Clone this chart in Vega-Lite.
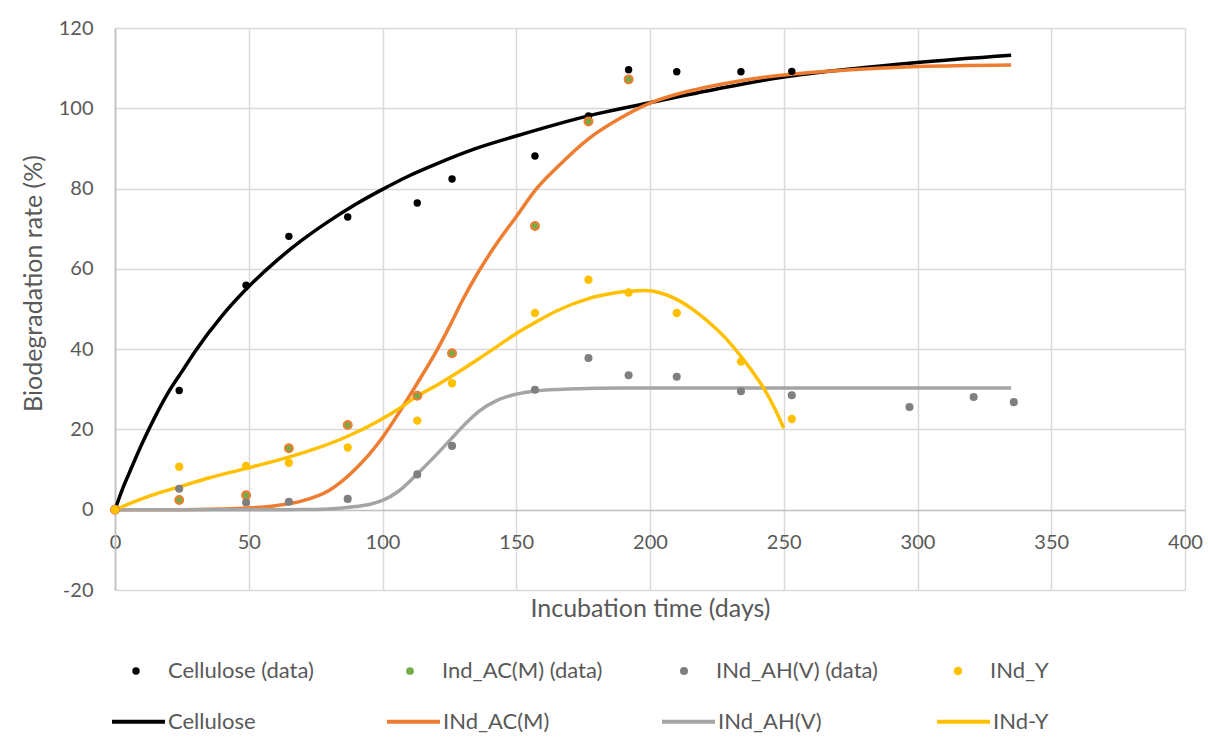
{
  "$schema": "https://vega.github.io/schema/vega-lite/v6.json",
  "width": 1070,
  "height": 562,
  "autosize": "none",
  "padding": {"left": 115, "top": 28, "right": 23, "bottom": 150},
  "background": "white",
  "config": {
    "font": "Lato",
    "view": {"stroke": null}
  },
  "datasets": {
    "pts": [
      {"series": "Cellulose (data)", "t": 0, "v": 0},
      {"series": "Cellulose (data)", "t": 24, "v": 29.7},
      {"series": "Cellulose (data)", "t": 49, "v": 55.9},
      {"series": "Cellulose (data)", "t": 65, "v": 68.1},
      {"series": "Cellulose (data)", "t": 87, "v": 72.9},
      {"series": "Cellulose (data)", "t": 113, "v": 76.4},
      {"series": "Cellulose (data)", "t": 126, "v": 82.4},
      {"series": "Cellulose (data)", "t": 157, "v": 88.1},
      {"series": "Cellulose (data)", "t": 177, "v": 98.1},
      {"series": "Cellulose (data)", "t": 192, "v": 109.6},
      {"series": "Cellulose (data)", "t": 210, "v": 109.1},
      {"series": "Cellulose (data)", "t": 234, "v": 109.1},
      {"series": "Cellulose (data)", "t": 253, "v": 109.2},
      {"series": "Ind_AC(M) (data)", "t": 0, "v": 0},
      {"series": "Ind_AC(M) (data)", "t": 24, "v": 2.4},
      {"series": "Ind_AC(M) (data)", "t": 49, "v": 3.6},
      {"series": "Ind_AC(M) (data)", "t": 65, "v": 15.3},
      {"series": "Ind_AC(M) (data)", "t": 87, "v": 21.1},
      {"series": "Ind_AC(M) (data)", "t": 113, "v": 28.4},
      {"series": "Ind_AC(M) (data)", "t": 126, "v": 39.0},
      {"series": "Ind_AC(M) (data)", "t": 157, "v": 70.7},
      {"series": "Ind_AC(M) (data)", "t": 177, "v": 96.7},
      {"series": "Ind_AC(M) (data)", "t": 192, "v": 107.2},
      {"series": "INd_AH(V) (data)", "t": 0, "v": 0},
      {"series": "INd_AH(V) (data)", "t": 24, "v": 5.2},
      {"series": "INd_AH(V) (data)", "t": 49, "v": 1.8},
      {"series": "INd_AH(V) (data)", "t": 65, "v": 2.0},
      {"series": "INd_AH(V) (data)", "t": 87, "v": 2.7},
      {"series": "INd_AH(V) (data)", "t": 113, "v": 8.8},
      {"series": "INd_AH(V) (data)", "t": 126, "v": 15.9},
      {"series": "INd_AH(V) (data)", "t": 157, "v": 29.9},
      {"series": "INd_AH(V) (data)", "t": 177, "v": 37.8},
      {"series": "INd_AH(V) (data)", "t": 192, "v": 33.5},
      {"series": "INd_AH(V) (data)", "t": 210, "v": 33.1},
      {"series": "INd_AH(V) (data)", "t": 234, "v": 29.5},
      {"series": "INd_AH(V) (data)", "t": 253, "v": 28.5},
      {"series": "INd_AH(V) (data)", "t": 297, "v": 25.6},
      {"series": "INd_AH(V) (data)", "t": 321, "v": 28.1},
      {"series": "INd_AH(V) (data)", "t": 336, "v": 26.8},
      {"series": "INd_Y", "t": 0, "v": 0},
      {"series": "INd_Y", "t": 24, "v": 10.7},
      {"series": "INd_Y", "t": 49, "v": 10.9},
      {"series": "INd_Y", "t": 65, "v": 11.7},
      {"series": "INd_Y", "t": 87, "v": 15.5},
      {"series": "INd_Y", "t": 113, "v": 22.2},
      {"series": "INd_Y", "t": 126, "v": 31.5},
      {"series": "INd_Y", "t": 157, "v": 49.0},
      {"series": "INd_Y", "t": 177, "v": 57.3},
      {"series": "INd_Y", "t": 192, "v": 54.1},
      {"series": "INd_Y", "t": 210, "v": 49.0},
      {"series": "INd_Y", "t": 234, "v": 36.9},
      {"series": "INd_Y", "t": 253, "v": 22.6}
    ],
    "curves": [
      {"curve": "Cellulose", "t": 0, "v": 0},
      {"curve": "Cellulose", "t": 3, "v": 5.5},
      {"curve": "Cellulose", "t": 6, "v": 10.2},
      {"curve": "Cellulose", "t": 10, "v": 16.3},
      {"curve": "Cellulose", "t": 15, "v": 23.2},
      {"curve": "Cellulose", "t": 20, "v": 29.3},
      {"curve": "Cellulose", "t": 25, "v": 34.4},
      {"curve": "Cellulose", "t": 30, "v": 39.5},
      {"curve": "Cellulose", "t": 40, "v": 48.3},
      {"curve": "Cellulose", "t": 50, "v": 55.6},
      {"curve": "Cellulose", "t": 60, "v": 61.8},
      {"curve": "Cellulose", "t": 70, "v": 67.2},
      {"curve": "Cellulose", "t": 80, "v": 71.9},
      {"curve": "Cellulose", "t": 90, "v": 76.1},
      {"curve": "Cellulose", "t": 100, "v": 79.8},
      {"curve": "Cellulose", "t": 110, "v": 83.2},
      {"curve": "Cellulose", "t": 120, "v": 86.1},
      {"curve": "Cellulose", "t": 135, "v": 90.0},
      {"curve": "Cellulose", "t": 150, "v": 93.1},
      {"curve": "Cellulose", "t": 165, "v": 96.0},
      {"curve": "Cellulose", "t": 180, "v": 98.6},
      {"curve": "Cellulose", "t": 200, "v": 101.4},
      {"curve": "Cellulose", "t": 225, "v": 104.8},
      {"curve": "Cellulose", "t": 250, "v": 107.8},
      {"curve": "Cellulose", "t": 275, "v": 109.8},
      {"curve": "Cellulose", "t": 300, "v": 111.4},
      {"curve": "Cellulose", "t": 335, "v": 113.2},
      {"curve": "INd_AC(M)", "t": 0, "v": 0},
      {"curve": "INd_AC(M)", "t": 20, "v": 0.02},
      {"curve": "INd_AC(M)", "t": 40, "v": 0.2},
      {"curve": "INd_AC(M)", "t": 50, "v": 0.45},
      {"curve": "INd_AC(M)", "t": 60, "v": 1.0},
      {"curve": "INd_AC(M)", "t": 70, "v": 2.2},
      {"curve": "INd_AC(M)", "t": 80, "v": 4.8},
      {"curve": "INd_AC(M)", "t": 90, "v": 10.2},
      {"curve": "INd_AC(M)", "t": 100, "v": 18.0},
      {"curve": "INd_AC(M)", "t": 106, "v": 24.0},
      {"curve": "INd_AC(M)", "t": 113, "v": 31.5},
      {"curve": "INd_AC(M)", "t": 120, "v": 39.3},
      {"curve": "INd_AC(M)", "t": 125, "v": 45.6},
      {"curve": "INd_AC(M)", "t": 130, "v": 52.3},
      {"curve": "INd_AC(M)", "t": 136, "v": 59.4},
      {"curve": "INd_AC(M)", "t": 143, "v": 66.6},
      {"curve": "INd_AC(M)", "t": 150, "v": 73.0},
      {"curve": "INd_AC(M)", "t": 157, "v": 79.5},
      {"curve": "INd_AC(M)", "t": 165, "v": 85.1},
      {"curve": "INd_AC(M)", "t": 177, "v": 92.4},
      {"curve": "INd_AC(M)", "t": 188, "v": 97.2},
      {"curve": "INd_AC(M)", "t": 200, "v": 101.3},
      {"curve": "INd_AC(M)", "t": 210, "v": 103.5},
      {"curve": "INd_AC(M)", "t": 220, "v": 105.1},
      {"curve": "INd_AC(M)", "t": 235, "v": 107.0},
      {"curve": "INd_AC(M)", "t": 250, "v": 108.3},
      {"curve": "INd_AC(M)", "t": 275, "v": 109.6},
      {"curve": "INd_AC(M)", "t": 300, "v": 110.4},
      {"curve": "INd_AC(M)", "t": 335, "v": 110.8},
      {"curve": "INd_AH(V)", "t": 0, "v": 0},
      {"curve": "INd_AH(V)", "t": 50, "v": 0},
      {"curve": "INd_AH(V)", "t": 70, "v": 0.05},
      {"curve": "INd_AH(V)", "t": 80, "v": 0.2},
      {"curve": "INd_AH(V)", "t": 90, "v": 0.8},
      {"curve": "INd_AH(V)", "t": 95, "v": 1.3},
      {"curve": "INd_AH(V)", "t": 100, "v": 2.3},
      {"curve": "INd_AH(V)", "t": 106, "v": 4.6},
      {"curve": "INd_AH(V)", "t": 113, "v": 8.9},
      {"curve": "INd_AH(V)", "t": 120, "v": 13.6},
      {"curve": "INd_AH(V)", "t": 126, "v": 17.9},
      {"curve": "INd_AH(V)", "t": 131, "v": 21.4},
      {"curve": "INd_AH(V)", "t": 136, "v": 24.5},
      {"curve": "INd_AH(V)", "t": 143, "v": 27.3},
      {"curve": "INd_AH(V)", "t": 150, "v": 28.8},
      {"curve": "INd_AH(V)", "t": 157, "v": 29.6},
      {"curve": "INd_AH(V)", "t": 170, "v": 30.1},
      {"curve": "INd_AH(V)", "t": 190, "v": 30.3},
      {"curve": "INd_AH(V)", "t": 250, "v": 30.3},
      {"curve": "INd_AH(V)", "t": 335, "v": 30.3},
      {"curve": "INd-Y", "t": 0, "v": 0},
      {"curve": "INd-Y", "t": 5, "v": 1.4},
      {"curve": "INd-Y", "t": 10, "v": 2.7},
      {"curve": "INd-Y", "t": 17, "v": 4.3},
      {"curve": "INd-Y", "t": 24, "v": 5.7},
      {"curve": "INd-Y", "t": 35, "v": 7.9},
      {"curve": "INd-Y", "t": 49, "v": 10.3},
      {"curve": "INd-Y", "t": 65, "v": 13.1},
      {"curve": "INd-Y", "t": 75, "v": 15.2},
      {"curve": "INd-Y", "t": 87, "v": 18.3},
      {"curve": "INd-Y", "t": 99, "v": 22.3},
      {"curve": "INd-Y", "t": 106, "v": 25.1},
      {"curve": "INd-Y", "t": 113, "v": 28.3},
      {"curve": "INd-Y", "t": 120, "v": 30.9},
      {"curve": "INd-Y", "t": 126, "v": 33.3},
      {"curve": "INd-Y", "t": 136, "v": 37.6},
      {"curve": "INd-Y", "t": 144, "v": 41.2},
      {"curve": "INd-Y", "t": 150, "v": 43.9},
      {"curve": "INd-Y", "t": 157, "v": 46.6},
      {"curve": "INd-Y", "t": 165, "v": 49.5},
      {"curve": "INd-Y", "t": 177, "v": 52.6},
      {"curve": "INd-Y", "t": 186, "v": 53.9},
      {"curve": "INd-Y", "t": 192, "v": 54.4},
      {"curve": "INd-Y", "t": 198, "v": 54.6},
      {"curve": "INd-Y", "t": 204, "v": 54.0},
      {"curve": "INd-Y", "t": 210, "v": 52.4},
      {"curve": "INd-Y", "t": 217, "v": 49.4},
      {"curve": "INd-Y", "t": 224, "v": 45.5},
      {"curve": "INd-Y", "t": 229, "v": 42.2},
      {"curve": "INd-Y", "t": 234, "v": 38.2},
      {"curve": "INd-Y", "t": 238, "v": 34.7},
      {"curve": "INd-Y", "t": 243, "v": 29.7},
      {"curve": "INd-Y", "t": 247, "v": 24.7},
      {"curve": "INd-Y", "t": 250, "v": 20.3}
    ]
  },
  "encoding": {
    "x": {
      "field": "t", "type": "quantitative",
      "scale": {"domain": [0, 400], "nice": false, "zero": false},
      "axis": {
        "values": [0, 50, 100, 150, 200, 250, 300, 350, 400],
        "grid": true,
        "gridColor": {"condition": {"test": "datum.value === 0", "value": "#BFBFBF"}, "value": "#D9D9D9"},
        "gridWidth": 1.5,
        "domain": false,
        "ticks": false,
        "labelPadding": -58,
        "labelFontSize": 20,
        "labelColor": "#595959",
        "labelFlush": false,
        "labelOverlap": false,
        "labelExpr": "'' + datum.value",
        "title": "Incubation time (days)",
        "titleFontSize": 25,
        "titleFontWeight": "normal",
        "titleColor": "#595959",
        "titleX": 535,
        "titleY": 6,
        "titleBaseline": "top",
        "titleAlign": "center"
      }
    },
    "y": {
      "field": "v", "type": "quantitative",
      "scale": {"domain": [-20, 120], "nice": false, "zero": false},
      "axis": {
        "values": [-20, 0, 20, 40, 60, 80, 100, 120],
        "grid": true,
        "gridColor": {"condition": {"test": "datum.value === 0", "value": "#BFBFBF"}, "value": "#D9D9D9"},
        "gridWidth": 1.5,
        "domain": true,
        "domainColor": "#BFBFBF",
        "domainWidth": 1.5,
        "ticks": false,
        "labelPadding": 22,
        "labelFontSize": 20,
        "labelColor": "#595959",
        "labelFlush": false,
        "labelOverlap": false,
        "labelExpr": "'' + datum.value",
        "title": "Biodegradation rate (%)",
        "titleFontSize": 25,
        "titleFontWeight": "normal",
        "titleColor": "#595959",
        "titleX": -82,
        "titleY": 255,
        "titleAngle": -90,
        "titleBaseline": "middle",
        "titleAlign": "center"
      }
    }
  },
  "layer": [
    {
      "data": {"name": "curves"},
      "mark": {"type": "line", "strokeWidth": 3.5, "interpolate": "monotone", "clip": true},
      "encoding": {
        "stroke": {
          "field": "curve", "type": "nominal",
          "scale": {"domain": ["Cellulose", "INd_AC(M)", "INd_AH(V)", "INd-Y"], "range": ["#000000", "#ED7D31", "#A5A5A5", "#FFC000"]},
          "legend": {
            "title": null,
            "orient": "none",
            "legendX": -5,
            "legendY": 665,
            "direction": "horizontal",
            "columns": 4,
            "gridAlign": "all",
            "columnPadding": 104,
            "padding": 0,
            "symbolType": "stroke",
            "symbolSize": 2809,
            "symbolStrokeWidth": 4,
            "labelOffset": 1,
            "labelFontSize": 22,
            "labelColor": "#595959",
            "labelLimit": 400
          }
        },
        "detail": {"field": "curve"}
      }
    },
    {
      "data": {"name": "pts"},
      "mark": {"type": "point", "shape": "circle", "filled": true, "opacity": 1},
      "encoding": {
        "color": {
          "field": "series", "type": "nominal",
          "scale": {"domain": ["Cellulose (data)", "Ind_AC(M) (data)", "INd_AH(V) (data)", "INd_Y"], "range": ["#000000", "#70AD47", "#7F7F7F", "#FFC000"]},
          "legend": {
            "title": null,
            "orient": "none",
            "legendX": 10,
            "legendY": 632,
            "direction": "horizontal",
            "columns": 4,
            "gridAlign": "all",
            "columnPadding": 69,
            "padding": 0,
            "symbolType": "circle",
            "symbolSize": 50,
            "symbolStrokeWidth": 0,
            "labelOffset": 21,
            "labelFontSize": 22,
            "labelColor": "#595959",
            "labelLimit": 400,
            "encode": {
              "symbols": {
                "update": {
                  "stroke": {"signal": "datum.value === 'Ind_AC(M) (data)' ? '#ED7D31' : 'transparent'"},
                  "strokeWidth": {"signal": "datum.value === 'Ind_AC(M) (data)' ? 1.5 : 0"},
                  "opacity": {"value": 1}
                }
              }
            }
          }
        },
        "size": {
          "field": "series", "type": "nominal",
          "scale": {"domain": ["Cellulose (data)", "Ind_AC(M) (data)", "INd_AH(V) (data)", "INd_Y"], "range": [55, 70, 80, 85]},
          "legend": null
        },
        "stroke": {
          "condition": {"test": "datum.series === 'Ind_AC(M) (data)'", "value": "#ED7D31"},
          "value": "transparent"
        },
        "strokeWidth": {
          "condition": {"test": "datum.series === 'Ind_AC(M) (data)'", "value": 2.2},
          "value": 0
        }
      }
    }
  ],
  "resolve": {"scale": {"stroke": "independent"}}
}
